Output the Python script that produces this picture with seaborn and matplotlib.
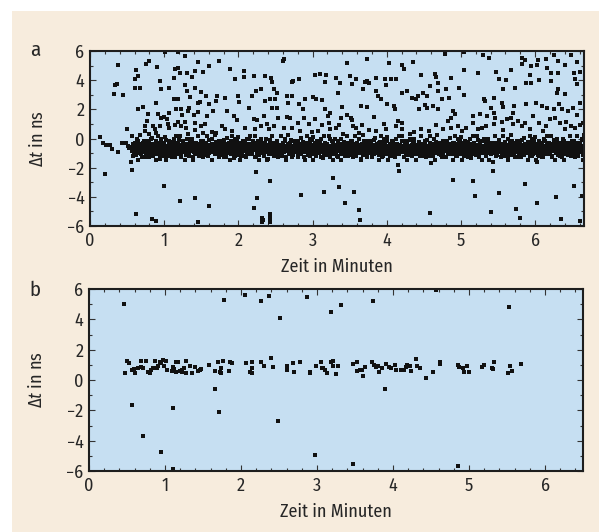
import matplotlib
matplotlib.use("Agg")
import matplotlib.pyplot as plt
import seaborn as sns
import pandas as pd
from matplotlib.ticker import MultipleLocator
from matplotlib.patches import Rectangle
from matplotlib import font_manager

# ---------------- data (minutes, ns) ----------------
# panel a: scattered outliers
a_outliers = [
    (0.38,5.04),(0.62,4.70),(0.61,4.10),(0.65,4.29),(0.76,5.09),(0.80,5.31),(0.91,4.93),(1.01,5.93),
    (1.19,5.93),(1.28,5.66),(1.45,5.25),(0.34,3.65),(0.37,3.71),(0.33,3.07),(0.44,2.96),(0.60,3.49),
    (0.67,3.49),(1.14,4.79),(1.18,4.86),(1.13,4.17),(1.21,4.51),(1.31,4.51),(1.37,4.24),(1.42,4.63),
    (1.52,4.56),(1.61,4.97),(0.94,3.94),(0.96,3.37),(1.06,3.49),(1.13,2.73),(1.18,2.73),(1.28,3.67),
    (1.31,3.26),(1.35,2.87),(1.42,3.49),(1.49,3.19),(1.57,2.91),(0.65,2.04),(0.71,2.18),(0.89,2.41),
    (0.92,1.66),(0.96,1.43),(1.00,1.50),(1.04,1.36),(0.78,1.66),(0.77,1.20),(0.85,0.86),(0.74,0.86),
    (0.87,0.63),(0.94,0.86),(1.05,0.97),(1.07,0.74),(1.15,0.90),(1.16,2.00),(1.18,1.13),(1.23,0.86),
    (1.28,1.13),(1.30,0.74),(1.24,1.59),(1.32,1.88),(1.34,2.11),(1.40,1.59),(1.46,1.82),(1.48,2.50),
    (1.50,0.86),(1.55,0.97),(1.58,1.54),(1.66,1.88),(1.23,2.00),(1.07,1.77),(0.50,0.63),(1.42,1.08),
    (1.61,2.34),(1.46,2.46),(0.74,0.51),(0.89,0.35),(1.52,0.35),(1.41,0.58),(0.80,0.28),(1.19,0.17),
    (1.32,0.28),
    (0.14,0.12),(0.18,-0.29),(0.22,-0.45),(0.27,-0.47),(0.30,-0.70),(0.38,-0.93),(0.43,-0.29),
    (0.49,-0.33),(0.51,-0.52),(0.55,-1.61),(0.56,-2.16),(0.53,-0.63),
    (0.20,-2.46),(1.00,-3.26),(1.22,-4.29),(1.42,-4.11),(0.62,-5.20),(0.84,-5.50),(0.89,-5.66),
    (1.46,-5.73),(1.61,-4.63),
    (1.74,5.31),(1.89,4.74),(2.07,4.63),(2.08,4.24),(1.96,4.06),(2.21,4.29),(2.36,4.29),(2.44,4.17),
    (2.45,3.87),(2.61,5.47),(2.60,5.31),(2.74,3.94),(2.72,3.87),(2.82,4.10),(3.03,4.33),(3.10,4.40),
    (3.18,4.33),(3.17,3.87),(3.32,4.17),(1.71,2.91),(1.70,2.57),(1.82,2.80),(1.99,2.91),(2.01,2.50),
    (2.14,2.11),(2.18,2.91),(2.24,3.26),(2.31,3.37),(2.36,2.57),(2.42,2.68),(2.48,3.37),(2.52,3.14),
    (2.50,2.73),(2.46,2.11),(2.52,2.11),(2.65,2.91),(2.67,2.46),(2.72,2.91),(2.82,2.34),(2.90,2.73),
    (2.87,2.04),(3.00,2.87),(3.05,2.68),(3.13,2.64),(3.17,2.00),(3.24,1.77),(3.21,1.54),(1.85,1.88),
    (1.94,1.54),(1.98,1.27),(2.21,1.36),(2.25,1.27),(2.34,1.54),(2.54,1.43),(2.65,1.50),(2.70,1.43),
    (2.80,1.08),(2.88,1.43),(2.95,0.97),(3.04,1.36),(3.13,0.90),(3.22,1.08),(1.78,0.86),(1.82,0.63),
    (1.91,0.51),(2.09,0.74),(2.23,0.63),(2.30,0.86),(2.39,0.97),(2.41,0.63),(2.48,0.86),(2.61,0.74),
    (2.72,0.74),(2.83,0.51),(2.99,0.44),(3.08,0.51),(3.24,0.63),(3.31,0.74),(1.65,0.44),(1.70,0.35),
    (2.24,-2.28),(2.42,-2.92),(2.85,-3.88),(3.16,-3.67),(2.25,-4.06),(2.21,-4.79),(2.32,-5.43),
    (2.33,-5.59),(2.32,-5.73),(2.43,-5.20),(2.43,-5.43),(2.43,-5.71),(3.28,-2.69),
    (3.47,5.15),(3.74,5.43),(4.03,5.15),(4.21,5.02),(4.24,4.74),(4.36,5.25),(4.78,5.77),(3.50,4.29),
    (3.58,4.10),(3.53,3.71),(3.71,3.87),(3.74,3.94),(3.76,3.78),(3.68,3.42),(3.86,4.17),(3.98,4.06),
    (3.99,3.65),(4.06,4.06),(4.12,4.10),(4.46,4.33),(4.65,4.40),(4.67,4.24),(4.69,3.83),(4.87,4.17),
    (4.98,3.49),(3.37,3.78),(3.35,3.10),(3.85,3.26),(3.88,2.91),(3.92,2.73),(4.01,2.34),(4.10,2.23),
    (4.11,2.00),(4.21,3.14),(4.28,3.26),(4.34,2.80),(4.39,2.68),(4.42,2.91),(4.49,3.14),(4.54,2.91),
    (4.58,3.60),(4.69,3.26),(4.75,2.68),(4.80,3.37),(4.84,2.80),(4.51,2.27),(4.44,2.04),(4.55,2.11),
    (4.62,2.23),(4.69,2.00),(4.89,1.88),(4.92,1.66),(4.87,1.43),(4.82,1.20),(3.40,2.18),(3.47,1.59),
    (3.52,1.43),(3.53,1.27),(3.65,2.23),(3.74,2.18),(3.38,1.43),(3.54,0.86),(3.58,0.74),(3.67,0.90),
    (3.76,0.58),(3.85,0.51),(3.83,1.50),(3.97,0.97),(3.99,0.67),(4.12,0.86),(4.15,1.20),(4.21,1.04),
    (4.21,0.63),(4.32,0.28),(4.37,0.44),(4.46,0.67),(4.57,0.51),(4.66,0.90),(4.76,0.63),(4.87,0.74),
    (4.96,0.86),(3.36,0.90),(3.41,0.28),(3.63,0.40),
    (4.15,-1.84),(4.16,-2.23),(4.60,-1.70),(4.90,-2.85),(3.36,-3.31),(3.56,-3.65),(3.44,-4.45),
    (3.62,-4.91),(3.64,-5.61),(4.58,-5.13),
    (5.04,5.93),(5.30,5.70),(5.38,5.54),(5.82,5.54),(5.86,5.38),(6.04,5.38),(6.15,5.43),(6.26,5.70),
    (6.31,5.31),(6.49,5.70),(6.52,4.51),(5.04,4.70),(5.23,4.51),(5.48,4.56),(5.68,4.70),(5.82,5.09),
    (5.93,4.33),(5.94,4.97),(6.03,5.02),(6.16,4.86),(6.22,4.47),(6.31,4.51),(6.41,5.02),(6.56,5.25),
    (6.60,4.56),(5.61,4.01),(5.52,4.06),(5.57,3.42),(5.73,3.49),(5.88,3.83),(5.95,3.78),(6.06,4.01),
    (6.21,3.94),(6.31,3.37),(6.29,3.14),(6.40,3.03),(6.54,4.06),(6.56,3.71),(5.04,2.96),(5.31,2.73),
    (5.32,2.57),(5.44,2.80),(5.55,2.46),(5.57,2.18),(5.41,2.11),(5.17,1.54),(5.26,1.66),(5.35,1.54),
    (5.44,1.77),(5.46,1.43),(5.70,1.77),(5.71,2.23),(5.88,2.34),(6.01,2.41),(6.09,2.23),(6.16,2.11),
    (6.25,2.00),(6.32,2.34),(6.36,2.04),(6.45,1.88),(6.51,2.11),(6.56,1.59),(6.61,2.46),(5.07,0.74),
    (5.16,1.04),(5.23,0.63),(5.28,0.74),(5.34,0.86),(5.44,0.97),(5.55,1.13),(5.62,1.31),(5.67,1.43),
    (5.70,0.97),(5.77,1.20),(5.82,0.86),(5.86,1.08),(5.97,1.54),(6.06,1.04),(6.15,0.86),(6.20,1.31),
    (6.27,1.43),(6.33,1.04),(6.42,1.13),(6.49,0.86),(6.54,0.74),(6.60,0.90),(6.64,1.08),(5.01,0.51),
    (5.57,0.58),(5.93,0.63),(6.11,0.51),(6.40,0.63),
    (5.43,-1.61),(5.43,-2.23),(6.03,-1.61),(5.16,-2.92),(5.19,-3.95),(5.52,-3.72),(5.86,-3.14),
    (6.02,-4.40),(6.28,-3.99),(6.52,-3.26),(6.63,-3.95),(5.74,-4.86),(5.41,-5.02),(5.80,-5.43),
    (6.35,-5.55),(6.60,-5.66),
]

# panel a: dense band of coincidences (hundredths of a minute, hundredths of a ns)
a_band = [
    (56,-60),(57,-85),(58,-40),(59,-95),(60,-70),(61,-30),(62,-110),(63,-55),(64,-78),(65,-20),
    (66,-88),(66,-45),(67,-65),(68,-102),(69,-35),(69,-72),(70,-128),(71,-50),(72,-90),(73,-15),(73,-60),(74,-80),(75,-40),
    (76,-98),(77,-55),(77,-25),(78,-75),(79,-110),(80,-45),(80,-66),(81,-88),(82,-5),(83,-58),(84,-95),(84,-35),(85,-120),
    (86,-70),(87,-42),(87,-92),(88,-60),(89,-18),(90,-80),(90,-105),(91,-50),(92,-30),(93,-85),(94,-65),(94,-140),(95,-45),
    (96,-100),(97,-28),(97,-72),(98,-55),(99,-90),(100,-40),(100,-118),(101,-62),(102,-10),(103,-82),(104,-48),(104,-95),(105,-68),
    (106,-35),(107,-78),(107,-108),(108,-52),(109,-88),(110,-22),(110,-63),(111,-97),(112,-44),(113,-72),(114,-125),(114,-58),(115,-30),
    (116,-84),(117,-50),(117,-68),(118,-102),(119,-38),(120,-75),(120,-12),(121,-92),(122,-56),(123,-115),(124,-42),(124,-80),(125,-65),
    (126,-25),(127,-95),(127,-58),(128,-74),(129,-40),(130,-110),(130,-85),(131,-50),(132,-5),(133,-66),(134,-98),(134,-35),(135,-78),
    (136,-55),(137,-88),(137,-20),(138,-70),(139,-130),(140,-45),(140,-93),(141,-62),(142,-30),(143,-80),(144,-105),(144,-50),(145,-72),
    (146,-40),(147,-100),(147,-64),(148,-82),(149,-15),(150,-55),(150,-90),(151,-35),(152,-75),(153,-120),(154,-48),(154,-68),(155,-95),
    (156,-28),(157,-60),(157,-85),(158,-110),(159,-45),(160,-72),(160,-8),(161,-98),(162,-52),(163,-78),(164,-36),(164,-145),(165,-65),
    (166,-90),(167,-42),(167,-70),(168,-58),(169,-105),(170,-25),(170,-80),(171,-48),(172,-95),(173,-62),(174,-18),(174,-75),(175,-115),
    (176,-55),(177,-85),(177,-32),(178,-68),(179,-100),(180,-45),(180,-78),(181,-12),(182,-92),(183,-58),(184,-125),(184,-40),(185,-72),
    (186,-62),(187,-30),(187,-98),(188,-80),(189,-50),(190,-108),(190,-20),(191,-70),(192,-88),(193,-42),(194,-60),(194,-135),(195,-35),
    (196,-95),(197,-55),(197,-75),(198,-15),(199,-85),(200,-48),(200,-112),(201,-65),(202,-30),(203,-90),(204,-52),(204,-70),(205,-102),
    (206,-40),(207,-80),(207,-60),(208,-118),(209,-25),(210,-88),(210,-50),(211,-72),(212,-98),(213,-35),(214,-66),(214,-5),(215,-84),
    (216,-56),(217,-106),(217,-38),(218,-75),(219,-92),(220,-48),(220,-20),(221,-68),(222,-128),(223,-58),(224,-82),(224,-30),(225,-96),
    (226,-64),(227,-44),(227,-88),(228,-110),(229,-52),(230,-78),(230,-15),(231,-100),(232,-36),(233,-70),(234,-90),(234,-58),(235,-122),
    (236,-28),(237,-82),(237,-62),(238,-95),(239,-46),(240,-74),(240,-140),(241,-55),(242,-10),(243,-88),(244,-66),(244,-105),(245,-40),
    (246,-78),(247,-52),(247,-100),(248,-34),(249,-70),(250,-90),(250,-58),(251,-118),(252,-22),(253,-82),(254,-48),(254,-64),(255,-96),
    (256,-42),(257,-72),(257,-108),(258,-60),(259,-86),(260,-30),(260,-54),(261,-94),(262,-76),(263,-15),(264,-66),(264,-125),(265,-48),
    (266,-88),(267,-58),(267,-36),(268,-102),(269,-70),(270,-45),(270,-82),(271,-8),(272,-64),(273,-96),(274,-52),(274,-115),(275,-75),
    (276,-30),(277,-92),(277,-62),(278,-80),(279,-44),(280,-110),(280,-68),(281,-20),(282,-86),(283,-56),(284,-74),(284,-38),(285,-100),
    (286,-60),(287,-84),(287,-25),(288,-70),(289,-130),(290,-48),(290,-95),(291,-66),(292,-35),(293,-78),(294,-112),(294,-52),(295,-88),
    (296,-42),(297,-74),(297,-98),(298,-58),(299,-12),(300,-82),(300,-64),(301,-105),(302,-46),(303,-90),(304,-30),(304,-70),(305,-120),
    (306,-55),(307,-85),(307,-38),(308,-68),(309,-100),(310,-20),(310,-76),(311,-50),(312,-92),(313,-62),(314,-135),(314,-44),(315,-80),
    (316,-66),(317,-34),(317,-96),(318,-52),(319,-78),(320,-115),(320,-40),(321,-86),(322,-60),(323,-5),(324,-72),(324,-102),(325,-48),
    (326,-90),(327,-56),(327,-70),(328,-28),(329,-108),(330,-64),(330,-82),(331,-44),(332,-98),(333,-58),(334,-18),(334,-76),(335,-125),
    (336,-50),(337,-88),(337,-66),(338,-36),(339,-104),(340,-74),(340,-55),(341,-92),(342,-25),(343,-80),(344,-62),(344,-118),(345,-42),
    (346,-84),(347,-60),(347,-30),(348,-96),(349,-70),(350,-48),(350,-110),(351,-78),(352,-14),(353,-88),(354,-56),(354,-68),(355,-100),
    (356,-38),(357,-76),(357,-92),(358,-54),(359,-120),(360,-64),(360,-28),(361,-84),(362,-46),(363,-102),(364,-72),(364,-58),(365,-140),
    (366,-66),(367,-40),(367,-88),(368,-112),(369,-52),(370,-78),(370,-20),(371,-96),(372,-60),(373,-34),(374,-82),(374,-105),(375,-48),
    (376,-74),(377,-56),(377,-100),(378,-30),(379,-86),(380,-64),(380,-118),(381,-44),(382,-92),(383,-10),(384,-70),(384,-52),(385,-80),
    (386,-98),(387,-36),(387,-62),(388,-84),(389,-50),(390,-110),(390,-72),(391,-25),(392,-90),(393,-58),(394,-128),(394,-44),(395,-76),
    (396,-60),(397,-94),(397,-32),(398,-70),(399,-48),(400,-104),(400,-82),(401,-15),(402,-66),(403,-88),(404,-54),(404,-115),(405,-40),
    (406,-78),(407,-52),(407,-96),(408,-64),(409,-28),(410,-86),(410,-122),(411,-46),(412,-72),(413,-100),(414,-58),(414,-36),(415,-84),
    (416,-68),(417,-42),(417,-108),(418,-80),(419,-54),(420,-20),(420,-92),(421,-62),(422,-76),(423,-130),(424,-48),(424,-88),(425,-34),
    (426,-96),(427,-58),(427,-74),(428,-40),(429,-112),(430,-66),(430,-84),(431,-8),(432,-52),(433,-100),(434,-70),(434,-44),(435,-90),
    (436,-62),(437,-30),(437,-80),(438,-106),(439,-56),(440,-72),(440,-145),(441,-46),(442,-92),(443,-66),(444,-22),(444,-84),(445,-118),
    (446,-50),(447,-76),(447,-98),(448,-36),(449,-64),(450,-88),(450,-54),(451,-110),(452,-42),(453,-70),(454,-94),(454,-12),(455,-60),
    (456,-82),(457,-48),(457,-104),(458,-66),(459,-30),(460,-90),(460,-74),(461,-56),(462,-120),(463,-40),(464,-78),(464,-62),(465,-96),
    (466,-26),(467,-70),(467,-86),(468,-52),(469,-102),(470,-64),(470,-38),(471,-80),(472,-58),(473,-114),(474,-44),(474,-92),(475,-72),
    (476,-100),(477,-60),(477,-34),(478,-84),(479,-50),(480,-76),(480,-128),(481,-18),(482,-66),(483,-94),(484,-46),(484,-80),(485,-58),
    (486,-88),(487,-40),(487,-70),(488,-108),(489,-54),(490,-82),(490,-28),(491,-96),(492,-62),(493,-74),(494,-36),(494,-118),(495,-50),
    (496,-68),(497,-92),(497,-44),(498,-78),(499,-14),(500,-58),(500,-104),(501,-84),(502,-32),(503,-70),(504,-96),(504,-52),(505,-64),
    (506,-112),(507,-40),(507,-76),(508,-56),(509,-90),(510,-24),(510,-68),(511,-100),(512,-48),(513,-82),(514,-60),(514,-135),(515,-36),
    (516,-74),(517,-94),(517,-52),(518,-30),(519,-86),(520,-64),(520,-110),(521,-44),(522,-78),(523,-10),(524,-58),(524,-98),(525,-70),
    (526,-40),(527,-84),(527,-62),(528,-102),(529,-50),(530,-76),(530,-20),(531,-92),(532,-56),(533,-68),(534,-120),(534,-34),(535,-80),
    (536,-60),(537,-96),(537,-44),(538,-72),(539,-28),(540,-88),(540,-54),(541,-108),(542,-66),(543,-38),(544,-82),(544,-50),(545,-100),
    (546,-70),(547,-32),(547,-90),(548,-58),(549,-116),(550,-46),(550,-76),(551,-12),(552,-62),(553,-94),(554,-40),(554,-84),(555,-54),
    (556,-104),(557,-66),(557,-36),(558,-80),(559,-50),(560,-92),(560,-24),(561,-70),(562,-58),(563,-124),(564,-42),(564,-86),(565,-62),(565,-98),(566,-30),
    (567,-76),(567,-52),(568,-110),(569,-64),(569,-18),(570,-88),(571,-44),(571,-72),(572,-100),(573,-56),(574,-34),(574,-82),(575,-66),(575,-130),(576,-48),
    (577,-90),(577,-60),(578,-28),(579,-78),(579,-106),(580,-40),(581,-70),(581,-54),(582,-94),(583,-8),(584,-64),(584,-86),(585,-46),(585,-116),(586,-74),
    (587,-36),(587,-58),(588,-100),(589,-68),(589,-80),(590,-22),(591,-92),(591,-50),(592,-62),(593,-120),(594,-42),(594,-76),(595,-88),(595,-56),(596,-30),
    (597,-104),(597,-66),(598,-46),(599,-84),(599,-14),(600,-72),(601,-96),(601,-54),(602,-38),(603,-80),(604,-62),(604,-112),(605,-26),(605,-90),(606,-50),
    (607,-70),(607,-44),(608,-86),(609,-58),(609,-126),(610,-32),(611,-76),(611,-98),(612,-48),(613,-64),(614,-18),(614,-82),(615,-56),(615,-106),(616,-40),
    (617,-92),(617,-62),(618,-74),(619,-28),(619,-50),(620,-100),(621,-66),(621,-84),(622,-36),(623,-118),(624,-54),(624,-70),(625,-10),(625,-88),(626,-44),
    (627,-78),(627,-58),(628,-96),(629,-40),(629,-68),(630,-24),(631,-86),(631,-110),(632,-50),(633,-74),(634,-62),(634,-34),(635,-92),(635,-54),(636,-130),
    (637,-46),(637,-82),(638,-66),(639,-100),(639,-20),(640,-58),(641,-76),(641,-38),(642,-90),(643,-52),(644,-114),(644,-70),(645,-30),(645,-84),(646,-62),
    (647,-96),(647,-42),(648,-74),(649,-56),(649,-104),(650,-16),(651,-68),(651,-86),(652,-48),(653,-80),(654,-34),(654,-120),(655,-60),(655,-92),(656,-44),
    (657,-72),(657,-54),(658,-100),(659,-28),(659,-82),(660,-64),(661,-40),(661,-94),(662,-58),(663,-76),(664,-12),(664,-110),(665,-50),(665,-86),(666,-66),
]

# panel a: second layer of the band (fuzzier edges)
a_band_edge = [
    (57,15),(58,-118),(60,-42),(61,-92),(63,-5),(65,-145),(66,-68),(68,25),(69,-105),(71,-30),(72,-80),(74,-130),(75,-18),(76,-55),
    (77,-68),(79,-18),(80,-130),(82,-42),(83,-105),(84,5),(86,-80),(87,-55),(89,-145),(90,-30),(92,15),(93,-92),(95,-118),(96,-5),
    (98,-30),(99,-92),(101,10),(102,-145),(104,-55),(105,-118),(107,-18),(108,-80),(110,-42),(111,-130),(113,-5),(114,-68),(116,-105),(116,20),
    (117,-105),(118,-42),(120,-80),(121,15),(123,-130),(125,-55),(126,-18),(128,-145),(129,-92),(131,-5),(132,-68),(134,-118),(135,-30),(136,-80),
    (137,-5),(139,-145),(140,-55),(142,-105),(143,-30),(144,-68),(146,20),(147,-118),(149,-42),(150,-92),(152,-18),(153,-130),(155,-80),(156,-55),
    (158,15),(159,-118),(161,-42),(162,-92),(164,-5),(165,-145),(167,-68),(168,25),(170,-105),(171,-30),(173,-80),(174,-130),(176,-18),(176,-55),
    (177,-68),(178,-18),(180,-130),(181,-42),(183,-105),(185,5),(186,-80),(188,-55),(189,-145),(191,-30),(192,15),(194,-92),(195,-118),(196,-5),
    (197,-30),(199,-92),(200,10),(202,-145),(203,-55),(204,-118),(206,-18),(207,-80),(209,-42),(210,-130),(212,-5),(213,-68),(215,-105),(216,20),
    (218,-105),(219,-42),(221,-80),(222,15),(224,-130),(225,-55),(227,-18),(228,-145),(230,-92),(231,-5),(233,-68),(234,-118),(236,-30),(236,-80),
    (237,-5),(238,-145),(240,-55),(241,-105),(243,-30),(245,-68),(246,20),(248,-118),(249,-42),(251,-92),(252,-18),(254,-130),(255,-80),(256,-55),
    (257,15),(259,-118),(260,-42),(262,-92),(263,-5),(264,-145),(266,-68),(267,25),(269,-105),(270,-30),(272,-80),(273,-130),(275,-18),(276,-55),
    (278,-68),(279,-18),(281,-130),(282,-42),(284,-105),(285,5),(287,-80),(288,-55),(290,-145),(291,-30),(293,15),(294,-92),(296,-118),(296,-5),
    (297,-30),(298,-92),(300,10),(301,-145),(303,-55),(305,-118),(306,-18),(308,-80),(309,-42),(311,-130),(312,-5),(314,-68),(315,-105),(316,20),
    (317,-105),(319,-42),(320,-80),(322,15),(323,-130),(324,-55),(326,-18),(327,-145),(329,-92),(330,-5),(332,-68),(333,-118),(335,-30),(336,-80),
    (338,-5),(339,-145),(341,-55),(342,-105),(344,-30),(345,-68),(347,20),(348,-118),(350,-42),(351,-92),(353,-18),(354,-130),(356,-80),(356,-55),
    (357,15),(358,-118),(360,-42),(361,-92),(363,-5),(365,-145),(366,-68),(368,25),(369,-105),(371,-30),(372,-80),(374,-130),(375,-18),(376,-55),
    (377,-68),(379,-18),(380,-130),(382,-42),(383,-105),(384,5),(386,-80),(387,-55),(389,-145),(390,-30),(392,15),(393,-92),(395,-118),(396,-5),
    (398,-30),(399,-92),(401,10),(402,-145),(404,-55),(405,-118),(407,-18),(408,-80),(410,-42),(411,-130),(413,-5),(414,-68),(416,-105),(416,20),
    (417,-105),(418,-42),(420,-80),(421,15),(423,-130),(425,-55),(426,-18),(428,-145),(429,-92),(431,-5),(432,-68),(434,-118),(435,-30),(436,-80),
    (437,-5),(439,-145),(440,-55),(442,-105),(443,-30),(444,-68),(446,20),(447,-118),(449,-42),(450,-92),(452,-18),(453,-130),(455,-80),(456,-55),
    (458,15),(459,-118),(461,-42),(462,-92),(464,-5),(465,-145),(467,-68),(468,25),(470,-105),(471,-30),(473,-80),(474,-130),(476,-18),(476,-55),
    (477,-68),(478,-18),(480,-130),(481,-42),(483,-105),(485,5),(486,-80),(488,-55),(489,-145),(491,-30),(492,15),(494,-92),(495,-118),(496,-5),
    (497,-30),(499,-92),(500,10),(502,-145),(503,-55),(504,-118),(506,-18),(507,-80),(509,-42),(510,-130),(512,-5),(513,-68),(515,-105),(516,20),
    (518,-105),(519,-42),(521,-80),(522,15),(524,-130),(525,-55),(527,-18),(528,-145),(530,-92),(531,-5),(533,-68),(534,-118),(536,-30),(536,-80),
    (537,-5),(538,-145),(540,-55),(541,-105),(543,-30),(545,-68),(546,20),(548,-118),(549,-42),(551,-92),(552,-18),(554,-130),(555,-80),(556,-55),
    (557,15),(559,-118),(560,-42),(562,-92),(563,-5),(564,-145),(566,-68),(567,25),(569,-105),(570,-30),(572,-80),(573,-130),(575,-18),(576,-55),
    (578,-68),(579,-18),(581,-130),(582,-42),(584,-105),(585,5),(587,-80),(588,-55),(590,-145),(591,-30),(593,15),(594,-92),(596,-118),(596,-5),
    (597,-30),(598,-92),(600,10),(601,-145),(603,-55),(605,-118),(606,-18),(608,-80),(609,-42),(611,-130),(612,-5),(614,-68),(615,-105),(616,20),
    (617,-105),(619,-42),(620,-80),(622,15),(623,-130),(624,-55),(626,-18),(627,-145),(629,-92),(630,-5),(632,-68),(633,-118),(635,-30),(636,-80),
    (638,-5),(639,-145),(641,-55),(642,-105),(644,-30),(645,-68),(647,20),(648,-118),(650,-42),(651,-92),(653,-18),(654,-130),(656,-80),(656,-55),
    (657,15),(658,-118),(660,-42),(661,-92),(663,-5),(665,-145),(666,-68),(666,25),
]

# panel b
b_outliers = [
    (0.46,5.01),(1.78,5.25),(2.05,5.62),(2.26,5.21),(2.37,5.54),(2.87,5.49),(3.19,4.46),(3.31,4.95),
    (3.74,5.19),(4.57,5.96),(5.53,4.79),(2.51,4.09),
    (0.57,-1.65),(1.10,-1.85),(1.66,-0.61),(1.71,-2.13),(2.49,-2.72),(0.71,-3.67),(0.95,-4.77),
    (1.11,-5.89),(2.98,-4.97),(3.47,-5.54),(4.85,-5.67),(3.89,-0.59),(4.44,0.11),
]
b_band = [
    (0.50,1.25),(0.53,1.14),(0.48,0.48),(0.57,0.66),(0.60,0.44),(0.59,0.73),(0.64,0.81),(0.69,1.25),
    (0.68,0.88),(0.71,0.81),(0.75,1.25),(0.78,0.51),(0.80,0.44),(0.79,0.55),(0.82,0.64),(0.84,0.77),
    (0.87,1.25),(0.89,0.81),(0.91,0.92),(0.93,1.16),(0.95,1.10),(0.97,1.32),(0.99,0.92),(1.01,1.25),
    (1.03,0.64),(1.09,0.59),(1.10,0.88),(1.12,0.73),(1.14,0.51),(1.15,1.16),(1.17,1.21),(1.20,0.59),
    (1.22,0.64),(1.23,0.55),(1.25,0.81),(1.28,1.25),(1.28,0.44),(1.33,0.92),(1.36,0.48),(1.40,0.88),
    (1.44,0.59),(1.46,0.64),(1.48,0.73),(1.58,0.99),(1.66,0.59),(1.70,1.16),(1.72,0.51),(1.74,0.44),
    (1.74,0.77),(1.76,1.25),(1.84,0.59),(1.86,1.21),(1.88,1.10),(2.06,1.10),(2.12,0.51),(2.14,0.44),
    (2.14,1.21),(2.15,0.81),(2.26,1.21),(2.30,0.92),(2.39,1.43),(2.42,0.86),(2.60,0.95),(2.61,0.64),
    (2.68,1.10),(2.70,0.51),(2.77,1.21),(2.91,0.51),(2.91,0.44),(2.99,0.95),(3.05,1.21),(3.06,0.81),
    (3.08,0.77),(3.10,0.64),(3.13,0.44),(3.18,1.21),(3.21,1.25),(3.21,0.95),(3.25,0.42),(3.28,0.95),
    (3.48,1.03),(3.53,1.21),(3.52,0.59),(3.56,0.66),(3.59,0.66),(3.61,0.29),(3.63,0.88),(3.73,1.21),
    (3.75,0.99),(3.78,0.88),(3.80,0.95),(3.81,0.51),(3.86,0.81),(3.91,1.03),(3.95,0.88),(3.97,0.77),
    (4.03,0.99),(4.04,0.64),(4.11,0.66),(4.15,0.64),(4.17,0.88),(4.19,0.99),(4.23,0.95),(4.24,0.59),
    (4.30,1.39),(4.32,0.95),(4.35,0.81),(4.52,0.51),(4.62,1.03),(4.62,1.16),(4.86,0.99),(4.87,0.88),
    (4.92,0.81),(4.94,0.51),(4.98,0.92),(5.00,0.55),(5.17,0.88),(5.20,0.99),(5.30,0.81),(5.31,0.73),
    (5.33,1.16),(5.51,0.44),(5.54,0.95),(5.56,0.59),(5.69,1.06),
]

x_ticks = [0, 1, 2, 3, 4, 5, 6]
y_ticks = [-6, -4, -2, 0, 2, 4, 6]
y_tick_labels = ["\u22126", "\u22124", "\u22122", "0", "2", "4", "6"]
x_label = "Zeit in Minuten"
y_label = r"$\mathit{Δt}$ in ns"
panel_letters = ["a", "b"]

# ---------------- build tables ----------------
out_a = pd.DataFrame(a_outliers, columns=["t", "dt"])
band_a = pd.concat([
    pd.DataFrame([(x / 100, y / 100) for x, y in a_band], columns=["t", "dt"]),
    pd.DataFrame([(x / 100, y / 100) for x, y in a_band_edge], columns=["t", "dt"]),
], ignore_index=True)
out_b = pd.DataFrame(b_outliers, columns=["t", "dt"])
band_b = pd.DataFrame(b_band, columns=["t", "dt"])

# ---------------- style ----------------
sns.set_style("ticks")
installed = {f.name for f in font_manager.fontManager.ttflist}
main_font = "Liberation Sans"
for cand in ["Fira Sans Condensed", "Asap Condensed", "PT Sans Narrow", "Archivo Narrow",
             "Roboto Condensed", "Liberation Sans Narrow"]:
    if cand in installed:
        main_font = cand
        break
plt.rcParams["font.family"] = [main_font, "DejaVu Sans"]
plt.rcParams["mathtext.fontset"] = "custom"
plt.rcParams["mathtext.it"] = main_font + ":italic"
plt.rcParams["mathtext.rm"] = main_font

BEIGE = "#f7ecdd"
BLUE = "#c6dff2"
INK = "#111111"

fig = plt.figure(figsize=(6.03, 5.32), dpi=100, facecolor="white")
fig.patches.append(Rectangle((12 / 603, 0), (599 - 12) / 603, (532 - 11) / 532,
                             transform=fig.transFigure, facecolor=BEIGE,
                             edgecolor="none", zorder=-10))

ax_a = fig.add_axes([90 / 603, 1 - 226 / 532, 494 / 603, 175 / 532])
ax_b = fig.add_axes([89 / 603, 1 - 471 / 532, 494 / 603, 182 / 532])

panels = [(ax_a, out_a, band_a, 6.66, panel_letters[0], 50, 9),
          (ax_b, out_b, band_b, 6.5, panel_letters[1], 290, 6)]
for ax, df_out, df_band, xmax, letter, top_px, band_size in panels:
    ax.set_facecolor(BLUE)
    sns.scatterplot(data=df_band, x="t", y="dt", ax=ax, s=band_size, color=INK,
                    linewidth=0, marker="s", legend=False)
    sns.scatterplot(data=df_out, x="t", y="dt", ax=ax, s=6, color=INK,
                    linewidth=0, marker="s", legend=False)
    ax.set_xlim(0, xmax)
    ax.set_ylim(-6, 6)
    ax.set_xticks(x_ticks)
    ax.set_yticks(y_ticks)
    ax.set_yticklabels(y_tick_labels)
    ax.xaxis.set_minor_locator(MultipleLocator(0.2))
    ax.yaxis.set_minor_locator(MultipleLocator(1))
    ax.tick_params(which="both", direction="in", top=True, right=True,
                   color="#333333", width=0.8)
    ax.tick_params(which="major", length=4, labelsize=13, pad=4)
    ax.tick_params(which="minor", length=2.5)
    for sp in ax.spines.values():
        sp.set_linewidth(1.5)
        sp.set_color("#1e1e1e")
    ax.set_xlabel(x_label, fontsize=13, labelpad=6)
    ax.set_ylabel(y_label, fontsize=13)
    ax.yaxis.set_label_coords(-0.088, 0.5)
    fig.text(35 / 603, 1 - top_px / 532, letter, fontsize=15, ha="center", va="center")

fig.savefig("out.png", dpi=100, facecolor=fig.get_facecolor())
